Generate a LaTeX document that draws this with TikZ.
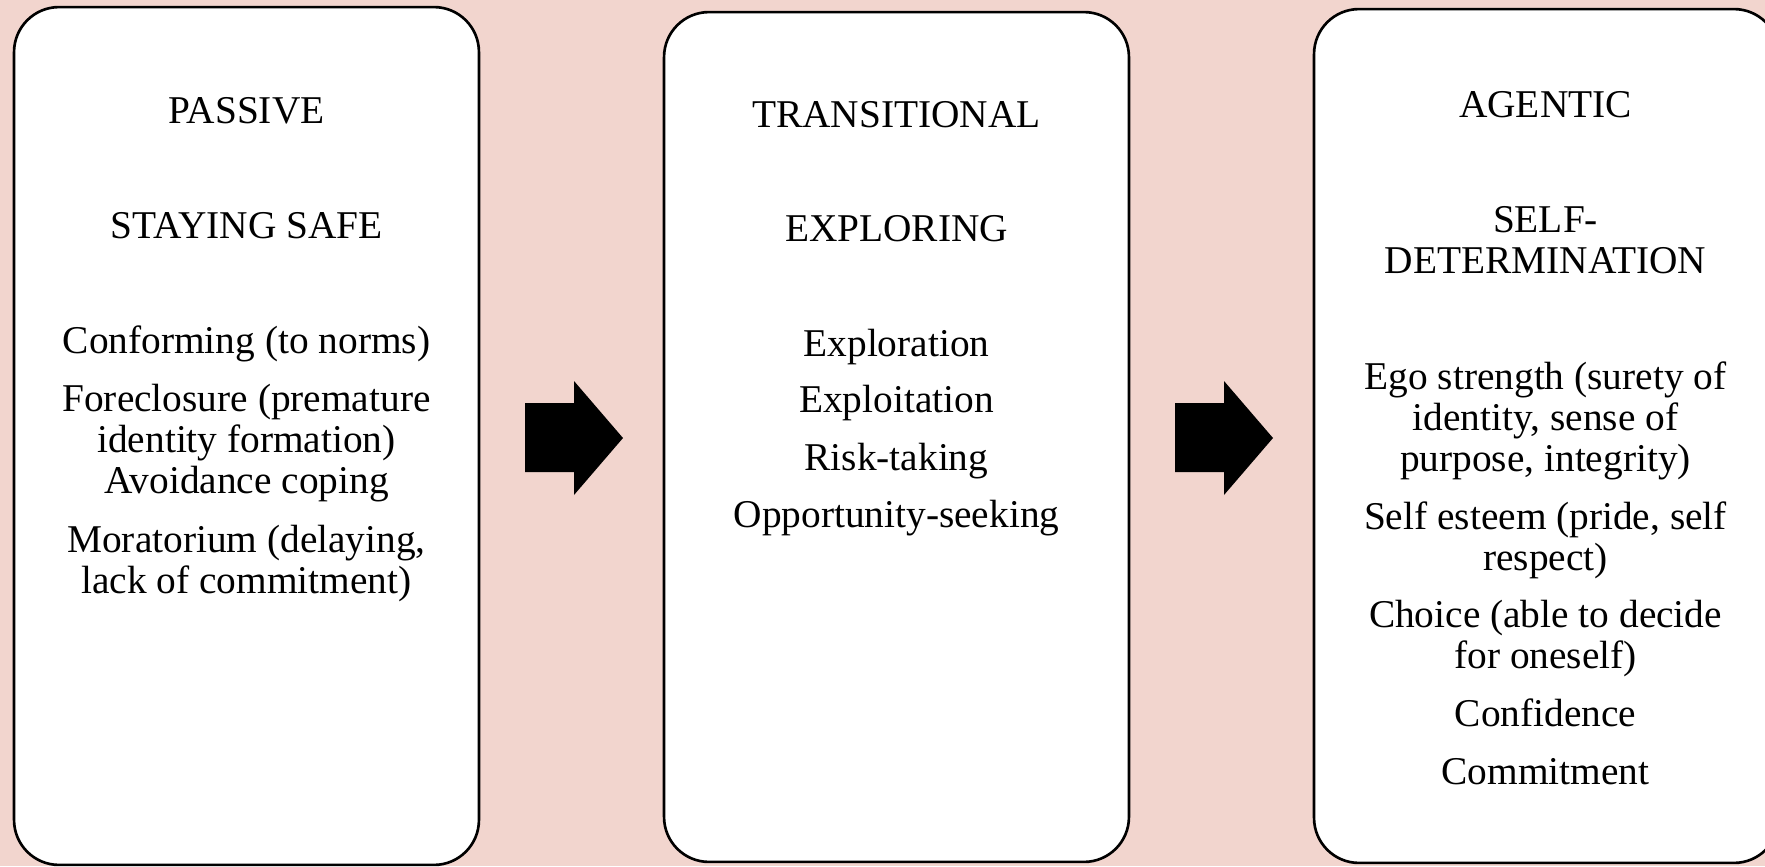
\documentclass[tikz,border=0pt]{standalone}
\usepackage{fontspec}
\setmainfont{Liberation Serif}
\usepackage{xcolor}
\definecolor{colorBack}{RGB}{242,213,206}
\usetikzlibrary{positioning}
\tikzset{stage/.style={draw, line width=1.5pt, fill=white, rounded corners=0.9cm, minimum width=9.3cm}}

\begin{document}
\begin{tikzpicture}[x=0.02cm, y=-0.02cm, every node/.style={font=\fontsize{22.4}{23.3}\selectfont, align=center, inner sep=0pt}, txt/.style={anchor=base}]
\fill[colorBack] (0,0) rectangle (1765,866);
\useasboundingbox (0,0) rectangle (1765,866);
\clip (0,0) rectangle (1765,866);
% the three stages
\node[stage, minimum height=17.16cm] (s1) at (246.5,436) {};
\node[stage, minimum height=17.0cm] (s2) at (896.5,437) {};
\node[stage, minimum height=17.08cm] (s3) at (1546.5,436) {};
% block arrows between stages
\foreach \dx in {0,650}
  \fill (525+\dx,403) -- (574+\dx,403) -- (574+\dx,381) -- (623+\dx,438) -- (574+\dx,495) -- (574+\dx,472) -- (525+\dx,472) -- cycle;
% passive (multi-line texts sit on their last baseline)
\node[txt] (p1) at (246.5,123) {PASSIVE};
\node[txt] (p2) at (246.5,238) {STAYING SAFE};
\node[txt] (p3) at (246.5,353) {Conforming (to norms)};
\node[txt] (p4) at (246.5,493) {Foreclosure (premature\\identity formation)\\Avoidance coping};
\node[txt] (p5) at (246.5,593) {Moratorium (delaying,\\lack of commitment)};
% transitional
\node[txt] (t1) at (896.5,127) {TRANSITIONAL};
\node[txt] (t2) at (896.5,241) {EXPLORING};
\node[txt] (t3) at (896.5,356) {Exploration};
\node[txt] (t4) at (896.5,412) {Exploitation};
\node[txt] (t5) at (896.5,470) {Risk-taking};
\node[txt] (t6) at (896.5,527) {Opportunity-seeking};
% agentic
\node[txt] (a1) at (1545.5,117) {AGENTIC};
\node[txt] (a2) at (1545.5,273) {SELF-\\DETERMINATION};
\node[txt] (a3) at (1545.5,471) {Ego strength (surety of\\identity, sense of\\purpose, integrity)};
\node[txt] (a4) at (1545.5,570) {Self esteem (pride, self\\respect)};
\node[txt] (a5) at (1545.5,668) {Choice (able to decide\\for oneself)};
\node[txt] (a6) at (1545.5,726) {Confidence};
\node[txt] (a7) at (1545.5,784) {Commitment};
\end{tikzpicture}
\end{document}
